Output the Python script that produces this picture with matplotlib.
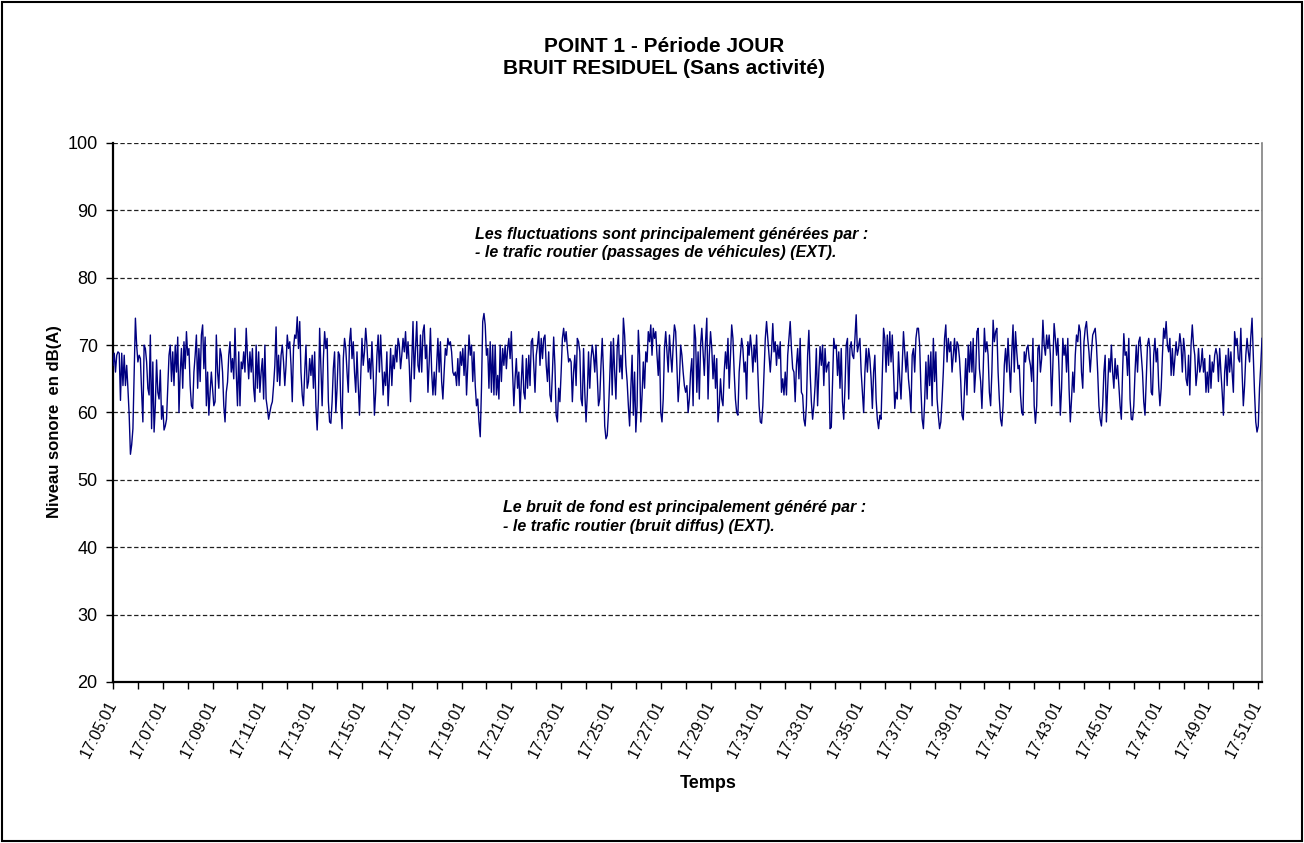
import numpy as np
import matplotlib
matplotlib.use("Agg")
import matplotlib.pyplot as plt
from matplotlib.patches import Rectangle
from datetime import datetime, timedelta

plt.rcParams['font.family'] = ['Liberation Sans', 'DejaVu Sans']

# ---------------- data ----------------
start_time = "17:05:01"
sample_step_s = 3          # one LAeq value every 3 s

levels_part1 = [67, 68.8, 66, 68.5, 69, 68.8, 61.8, 68.8, 64, 68.5, 64, 67, 63.5, 59.6, 53.8, 55.2, 57.6, 66, 74, 70,
                67.5, 68.5, 68, 63, 58.6, 70, 69.5, 67.5, 63.6, 62.6, 71.5, 57.6, 67.5, 57.1, 61, 67.8, 63, 62, 66.3, 59,
                61, 57.4, 58, 59, 63.6, 68.5, 70, 64.6, 69, 64, 70, 66, 71.2, 60, 66, 69.5, 63.6, 70.5, 66.5, 72,
                68.5, 69.5, 64, 61, 60.6, 66, 68.5, 71.5, 63.6, 69.5, 64.6, 71.5, 73, 66.5, 71.2, 61, 66, 59.6, 63, 66,
                63.6, 61, 61.6, 71.5, 66, 63.6, 69.5, 68.5, 66]
levels_part2 = [61, 58.6, 63, 64.5, 68.5, 70.5, 66, 68, 65, 72.5, 66, 61, 69, 61, 67.5, 66.5, 69, 66, 72.5, 68.5,
                65, 69, 66, 69.5, 63.6, 61.6, 70, 63.6, 69, 63, 66, 68, 62, 70, 62, 60.6, 59, 60, 61, 61.6,
                64, 67, 72.7, 64.6, 68.5, 64, 68.5, 70, 67.5, 64, 67, 71.5, 69.5, 70.5, 67, 61.6, 69.5, 71.5, 71, 74.2,
                69.5, 73.5, 66, 62.6, 61, 66, 70, 63.6, 64.6, 68, 65.5, 68.5, 63.6, 69, 61, 57.4, 62, 72.5, 66.5, 61,
                68, 72, 69.5, 71, 61.6, 58.6, 58.4, 61.6, 66.5, 69, 60, 63.6, 69]
levels_part3 = [68.5, 61, 57.6, 68, 71, 69.5, 66, 63, 70.5, 72.5, 68, 70.5, 66, 63, 69, 64, 59.6, 65.5, 71, 67,
                69, 72.5, 70, 66, 68, 65, 70.5, 66, 59.6, 63, 68.5, 71.5, 66, 71.5, 67, 62.6, 66, 64, 69, 61,
                65, 69.5, 64, 68.5, 66.5, 70, 67.5, 71, 70, 66.5, 68.5, 71, 69, 72, 68, 70.5, 67, 61.6, 67.5, 73.5,
                65, 69.5, 73.5, 67, 66, 71.5, 66, 72, 73, 68, 70, 63, 67.5, 72.5, 66, 62.6, 66, 62.6, 67, 71,
                66, 70.5, 64.6, 62, 66, 69.5, 68.5, 71, 70, 70.5, 69, 66, 65.5]
levels_part4 = [66, 64, 68, 64, 69, 67, 69.5, 65.5, 70, 62.6, 67, 71.5, 68.5, 70, 64.6, 69, 64, 61, 62, 58.6,
                56.4, 63.6, 73.5, 74.7, 73, 68.5, 69.5, 63.6, 70.5, 63, 70, 62.6, 70, 62.6, 65.5, 62, 70, 64.6, 69.5, 67,
                70, 66.5, 69.5, 71, 68, 72, 66, 61, 65, 68, 63.6, 66, 60, 64.6, 68.5, 63, 62, 68, 63.6, 68.5,
                64, 70.5, 71, 67, 63, 68.5, 70, 72, 67, 71, 68, 71, 71.5, 67, 64.6, 69, 62.6, 61.6, 66, 71.2,
                67, 59.6, 58.6, 63.6, 61.6, 66, 71, 72.5, 70.5, 72, 69.5, 67.5, 68]
levels_part5 = [67.5, 61.6, 66, 68.5, 64, 71, 70.5, 69, 62, 61, 69.5, 63, 58.6, 62.6, 69, 63.6, 68, 70, 68.5, 66,
                70, 65.5, 61, 62, 67, 71, 66, 58, 56.1, 56.6, 60, 65, 70.5, 62.6, 71, 66, 62, 69.5, 71.5, 66,
                68.5, 65, 74, 71.5, 67, 64.6, 61, 58, 63.6, 68.5, 59.6, 66, 57.1, 61, 72.2, 68.5, 58.6, 62.6, 67.5, 63.6,
                69, 67.5, 72, 70.5, 73, 68.5, 72.5, 71, 72, 68.5, 65.5, 70, 60, 58.6, 62, 69.5, 72, 69, 66, 71.5,
                68.5, 66, 70, 73, 72, 67, 61.6, 64.6, 70, 68.5, 66, 64, 63]
levels_part6 = [64, 60, 62, 66, 68, 61, 73, 71, 63, 69, 62, 70, 72.5, 69, 65.5, 70.5, 74, 62, 68.5, 72,
                69.5, 65, 68.5, 63.6, 68, 58.6, 61, 65, 62, 61, 66, 69, 66.5, 71, 63.6, 68.5, 73, 71, 66, 62,
                60, 59.6, 66, 68.5, 71, 69.5, 66, 67.5, 62, 70.5, 68.5, 71.5, 69.5, 66, 70, 67.5, 71.5, 66, 61, 58.6,
                58.4, 61, 66, 71, 73.5, 71, 68.5, 66, 69, 73.2, 69, 70.5, 67, 70, 68, 70.5, 63, 65, 62.6, 66,
                62.6, 68.5, 71, 73.5, 69.5, 66.5, 66, 61.6, 67, 69.5, 65, 71, 63]
levels_part7 = [62.6, 59, 58, 61, 68.5, 72.2, 66, 61.6, 59, 61, 64, 69.5, 61, 66, 69.8, 67, 70, 64, 69.5, 66,
                67, 67.5, 57.6, 57.8, 64.6, 71, 69.5, 70, 65.5, 69, 63.6, 69.5, 61.6, 59, 63.6, 70, 71, 62, 69.5, 70.5,
                68.5, 68, 71, 74.5, 69, 70, 71, 66, 63, 60, 66, 69.5, 66, 69.5, 68, 65, 60.6, 66, 68.5, 62,
                59, 57.6, 59.6, 59, 66, 72.5, 71, 66, 71.5, 67, 72, 67.5, 71.5, 66, 60.6, 63, 62, 69, 65, 62,
                67, 72, 69, 66, 69, 65, 63, 60, 68.5, 69.5, 66, 71, 72.5]
levels_part8 = [72.5, 70, 63.6, 59, 57.6, 61.6, 67.5, 62, 68.5, 64, 69, 61, 71, 64.6, 69, 62, 59.6, 57.6, 58.6, 62,
                66, 71, 73, 67.5, 71, 69, 70.5, 66, 68.5, 71, 67.5, 70.5, 70, 68, 64.6, 59.6, 58.9, 63.6, 68, 62.6,
                70, 66, 70.5, 66, 71, 63, 66, 72, 72.5, 66.5, 64.6, 60.6, 66, 72.5, 69, 70.5, 68.5, 63, 61, 66,
                73.7, 70.5, 72, 72.5, 66, 62, 59, 58, 61, 67, 69.5, 66, 71, 67, 63, 69, 73, 66, 72, 69,
                66.5, 67, 62.6, 60, 59.6, 69, 67.5, 69.5, 70, 68, 67, 64.6, 71]
levels_part9 = [61, 58.4, 61, 69.5, 70, 66, 68, 73.7, 70, 68.5, 71.5, 69.5, 71.5, 68.5, 61, 67, 73.2, 71, 68.5, 71,
                66, 59.6, 63.6, 71, 68.5, 70, 66, 71, 63.6, 58.6, 62, 66, 63, 68.5, 71.5, 70.5, 73, 72, 66, 63.6,
                70.5, 72.5, 73.5, 71, 69, 66, 69, 71.5, 72, 72.5, 70, 66, 61, 59, 58, 61, 66, 68.5, 58.6, 63.6,
                68, 66, 70, 66, 63.6, 68, 65, 67, 64, 61, 59, 66, 71.7, 68.5, 69, 65.5, 71, 62, 59, 58.9,
                61, 66, 70, 66, 70.5, 71.2, 68.5, 66, 61.6, 59.6, 65, 70, 71]
levels_part10 = [69.5, 63, 62.6, 68.5, 71, 67.5, 69.5, 64, 61, 63.6, 68.5, 72.5, 71, 73.5, 70, 69, 71, 65.5, 69.5, 65.5,
                 68, 70.5, 68.5, 69.5, 71.7, 70, 66, 71, 69, 65, 64, 68.5, 62.6, 70, 73, 70, 68.5, 64, 66, 69.5,
                 66, 67, 69.5, 66, 68, 63, 66, 63, 68.5, 63.6, 67.5, 66, 68.5, 69.5, 68.5, 64.6, 69.5, 66, 63, 59.6,
                 66, 68.5, 64, 69.5, 66, 69, 66, 63, 72, 70, 71, 68, 67.5, 72.5, 66, 61, 64, 68.5, 71, 69,
                 67.5, 71.2, 74, 68.5, 63, 58.6, 57.1, 58, 63.6, 67, 71]

y_ticks = [20, 30, 40, 50, 60, 70, 80, 90, 100]

title_lines = ["POINT 1 - Période JOUR", "BRUIT RESIDUEL (Sans activité)"]
note_fluct = ["Les fluctuations sont principalement générées par :",
              "- le trafic routier (passages de véhicules) (EXT)."]
note_fond = ["Le bruit de fond est principalement généré par :",
             "- le trafic routier (bruit diffus) (EXT)."]

# ---------------- build series ----------------
levels = np.array(levels_part1 + levels_part2 + levels_part3 + levels_part4 + levels_part5 +
                  levels_part6 + levels_part7 + levels_part8 + levels_part9 + levels_part10, dtype=float)
t = np.arange(len(levels)) * sample_step_s
t0 = datetime.strptime(start_time, "%H:%M:%S")

W, H = 1304, 843
fig = plt.figure(figsize=(W / 100, H / 100), dpi=100)
fig.patch.set_facecolor('white')
fig.patches.append(Rectangle((0.0015, 0.002), 0.997, 0.996, transform=fig.transFigure,
                             fill=False, edgecolor='black', linewidth=1.5))

ax = fig.add_axes([113 / W, 1 - 682 / H, 1149 / W, 539 / H])
ax.plot(t, levels, color='#000080', linewidth=1.0, zorder=3)
ax.set_xlim(0, t[-1])
ax.set_ylim(20, 100)

# grid
for yv in y_ticks[1:]:
    ax.axhline(yv, color='#202020', linewidth=0.9, linestyle=(0, (3.5, 2)), zorder=1)

ax.set_yticks(y_ticks)
ax.set_yticklabels([str(v) for v in y_ticks], fontsize=13)

xt = np.arange(0, t[-1] + 1, 60)
ax.set_xticks(xt)
xlabels = []
for i, s in enumerate(xt):
    xlabels.append((t0 + timedelta(seconds=int(s))).strftime("%H:%M:%S") if i % 2 == 0 else "")
ax.set_xticklabels(xlabels, fontsize=11.5, rotation=63, ha='right', va='center', rotation_mode='anchor')

ax.tick_params(axis='both', direction='out', length=5, width=1, color='black')
ax.tick_params(axis='y', pad=6)
ax.tick_params(axis='x', pad=9)

for side in ['left', 'bottom']:
    ax.spines[side].set_color('black')
    ax.spines[side].set_linewidth(1.6)
ax.spines['top'].set_visible(False)
ax.spines['right'].set_color('#808080')
ax.spines['right'].set_linewidth(1.2)

ax.set_ylabel("Niveau sonore  en dB(A)", fontsize=12, fontweight='bold')
ax.yaxis.set_label_coords(-0.044, 0.483)
ax.set_xlabel("Temps", fontsize=13, fontweight='bold')
ax.xaxis.set_label_coords(0.518, -0.172)

fig.text(664 / W, 1 - 46 / H, title_lines[0], ha='center', va='center', fontsize=15, fontweight='bold')
fig.text(664 / W, 1 - 69 / H, title_lines[1], ha='center', va='center', fontsize=15, fontweight='bold')

for i, line in enumerate(note_fluct):
    ax.text(0.315, [0.831, 0.797][i], line, transform=ax.transAxes, ha='left', va='center',
            fontsize=11.5, fontweight='bold', fontstyle='italic')
for i, line in enumerate(note_fond):
    ax.text(0.339, [0.323, 0.288][i], line, transform=ax.transAxes, ha='left', va='center',
            fontsize=11.5, fontweight='bold', fontstyle='italic')

fig.savefig("out.png", dpi=100)
